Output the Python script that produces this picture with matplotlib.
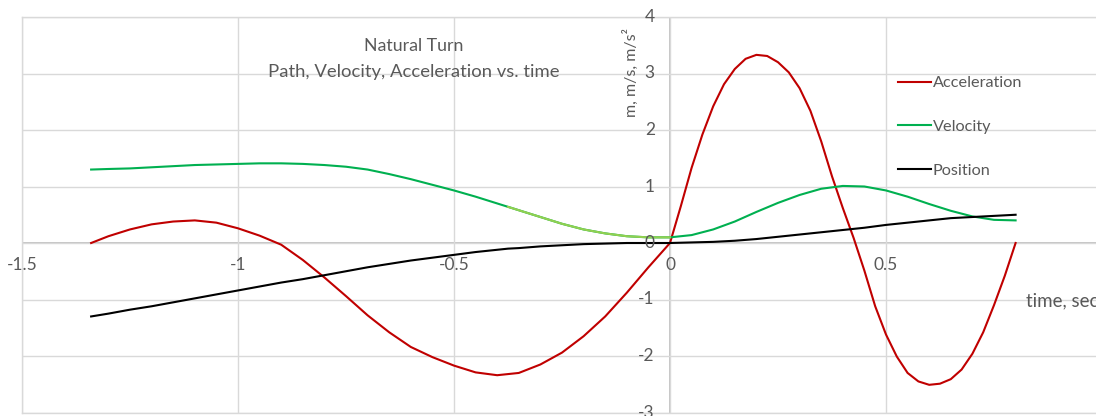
import matplotlib.pyplot as plt

# time samples (s) and curves
t = [-1.34, -1.30, -1.25, -1.20, -1.15, -1.10, -1.05, -1.00, -0.95, -0.90,
     -0.85, -0.80, -0.75, -0.70, -0.65, -0.60, -0.55, -0.50, -0.45, -0.40,
     -0.375, -0.35, -0.30, -0.25, -0.20, -0.15, -0.10, -0.05, 0.00, 0.05,
     0.10, 0.15, 0.20, 0.25, 0.30, 0.35, 0.40, 0.45, 0.50, 0.55,
     0.60, 0.65, 0.70, 0.75, 0.80]

velocity = [1.30, 1.31, 1.32, 1.34, 1.36, 1.38, 1.39, 1.40, 1.41, 1.41,
            1.40, 1.38, 1.35, 1.30, 1.22, 1.13, 1.03, 0.93, 0.82, 0.70,
            0.64, 0.58, 0.46, 0.34, 0.24, 0.17, 0.12, 0.10, 0.10, 0.14,
            0.24, 0.38, 0.55, 0.71, 0.85, 0.96, 1.01, 1.00, 0.93, 0.82,
            0.69, 0.57, 0.47, 0.41, 0.40]

position = [-1.30, -1.25, -1.18, -1.12, -1.05, -0.98, -0.91, -0.84, -0.77, -0.70,
            -0.64, -0.57, -0.50, -0.43, -0.37, -0.31, -0.26, -0.21, -0.16, -0.12,
            -0.10, -0.09, -0.06, -0.04, -0.02, -0.01, 0.00, 0.00, 0.00, 0.01,
            0.02, 0.04, 0.07, 0.11, 0.15, 0.19, 0.23, 0.27, 0.32, 0.36,
            0.40, 0.44, 0.46, 0.48, 0.50]

# acceleration was read on a finer time step where it bends fast
t_acc = [-1.34, -1.30, -1.25, -1.20, -1.15, -1.10, -1.05, -1.00, -0.95, -0.90,
         -0.85, -0.80, -0.75, -0.70, -0.65, -0.60, -0.55, -0.50, -0.45, -0.40,
         -0.35, -0.30, -0.25, -0.20, -0.15, -0.10, -0.05, 0.00, 0.025, 0.05,
         0.075, 0.10, 0.125, 0.15, 0.175, 0.20, 0.225, 0.25, 0.275, 0.30,
         0.325, 0.35, 0.375, 0.40, 0.425, 0.45, 0.475, 0.50, 0.525, 0.55,
         0.575, 0.60, 0.625, 0.65, 0.675, 0.70, 0.725, 0.75, 0.775, 0.80]

acceleration = [0.00, 0.12, 0.24, 0.33, 0.38, 0.40, 0.36, 0.26, 0.13, -0.03,
                -0.30, -0.61, -0.94, -1.28, -1.58, -1.84, -2.02, -2.17, -2.29, -2.34,
                -2.30, -2.15, -1.94, -1.65, -1.30, -0.88, -0.43, 0.00, 0.65, 1.33,
                1.92, 2.42, 2.81, 3.08, 3.26, 3.33, 3.31, 3.20, 3.02, 2.74,
                2.34, 1.80, 1.18, 0.62, 0.09, -0.49, -1.12, -1.62, -2.01, -2.30,
                -2.45, -2.51, -2.49, -2.41, -2.24, -1.96, -1.58, -1.10, -0.58, 0.00]

# part of the velocity curve drawn in a lighter green
light_start, light_end = 20, 28

x_ticks = [-1.5, -1, -0.5, 0, 0.5]
x_labels = ['-1.5', '-1', '-0.5', '0', '0.5']
y_ticks = [4, 3, 2, 1, 0, -1, -2, -3]

plt.rcParams['font.family'] = ['Lato', 'DejaVu Sans']
text_color = '#595959'
grid_color = '#D9D9D9'

fig = plt.figure(figsize=(10.96, 4.16), dpi=100)
ax = fig.add_axes([22 / 1096, 1 - 412.5 / 416, 1080 / 1096, 395.5 / 416])
ax.set_xlim(-1.5, 1.0)
ax.set_ylim(-3, 4)

ax.spines['right'].set_visible(False)
for s in ['left', 'top', 'bottom']:
    ax.spines[s].set_color(grid_color)
    ax.spines[s].set_linewidth(1.0)
ax.set_xticks([-1.5, -1, -0.5, 0, 0.5, 1.0])
ax.set_yticks(y_ticks)
ax.grid(True, color=grid_color, linewidth=1.0)
ax.tick_params(length=0, labelbottom=False, labelleft=False)
ax.axhline(0, color='#BFBFBF', linewidth=1.3, zorder=1)
ax.axvline(0, color='#BFBFBF', linewidth=1.3, zorder=1)

ax.plot(t_acc, acceleration, color='#C00000', linewidth=1.5, label='Acceleration', zorder=3)
ax.plot(t, velocity, color='#00B050', linewidth=1.5, label='Velocity', zorder=3)
ax.plot(t[light_start:light_end + 1], velocity[light_start:light_end + 1],
        color='#92D050', linewidth=1.5, zorder=3)
ax.plot(t, position, color='black', linewidth=1.5, label='Position', zorder=3)

for x, lab in zip(x_ticks, x_labels):
    ax.annotate(lab, (x, 0), xytext=(0, -16), textcoords='offset points',
                ha='center', va='center', color=text_color, fontsize=12.5,
                annotation_clip=False)
for y in y_ticks:
    ax.annotate(str(y), (0, y), xytext=(-11, 0), textcoords='offset points',
                ha='right', va='center', color=text_color, fontsize=12.5,
                annotation_clip=False)

ax.annotate('m, m/s, m/s²', (0, 4), xytext=(-28, -40), textcoords='offset points',
            rotation=90, ha='center', va='center', color=text_color, fontsize=11.5)
ax.annotate('time, sec', (0.825, -1.02), ha='left', va='center',
            color=text_color, fontsize=13.5, annotation_clip=False)

fig.text(414 / 1096, 1 - 46 / 416, 'Natural Turn', ha='center', va='center',
         color=text_color, fontsize=12.8)
fig.text(414 / 1096, 1 - 72 / 416, 'Path, Velocity, Acceleration vs. time',
         ha='center', va='center', color=text_color, fontsize=13.3)

leg = ax.legend(loc='upper left', bbox_to_anchor=(898 / 1096, 1 - 76 / 416),
                bbox_transform=fig.transFigure, frameon=False, fontsize=11.7,
                handlelength=2.0, handletextpad=0.15, labelspacing=1.8,
                borderaxespad=0, borderpad=0)
for txt in leg.get_texts():
    txt.set_color(text_color)

fig.savefig('out.png', dpi=100)
